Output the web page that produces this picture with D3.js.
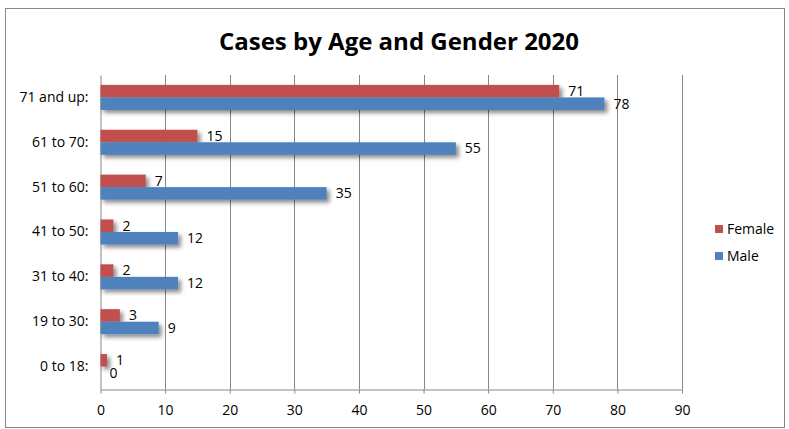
<!DOCTYPE html>
<html><head><meta charset="utf-8">
<script src="https://cdn.jsdelivr.net/npm/d3@7"></script>
<style>body{margin:0;background:#fff}svg{display:block}</style>
</head><body>
<svg id="c" width="789" height="429"></svg>
<script>
const categories = ["71 and up:", "61 to 70:", "51 to 60:", "41 to 50:", "31 to 40:", "19 to 30:", "0 to 18:"];
const series = ["Female", "Male"];
const female = [71, 15, 7, 2, 2, 3, 1];
const male = [78, 55, 35, 12, 12, 9, 0];
const xTicks = [0, 10, 20, 30, 40, 50, 60, 70, 80, 90];
const colors = ["#C0504D", "#4F81BD"];
const title = "Cases by Age and Gender 2020";

const svg = d3.select("#c");
const font = "'Open Sans', 'Liberation Sans', sans-serif";

const defs = svg.append("defs");
const f = defs.append("filter").attr("id", "sh").attr("x", "-10%").attr("y", "-50%").attr("width", "130%").attr("height", "250%");
f.append("feDropShadow").attr("dx", 3).attr("dy", 3).attr("stdDeviation", 2).attr("flood-color", "#000").attr("flood-opacity", 0.45);

svg.append("rect").attr("x", 5.5).attr("y", 8.5).attr("width", 779).attr("height", 419)
  .attr("fill", "#fff").attr("stroke", "#868686").attr("stroke-width", 1);

svg.append("text").attr("x", 399).attr("y", 50).attr("text-anchor", "middle")
  .attr("font-family", font).attr("font-weight", "bold").attr("font-size", 24)
  .attr("fill", "#000").text(title);

const x = d3.scaleLinear().domain([0, 90]).range([100.5, 682]);
const y = d3.scaleBand().domain(categories).range([75, 389]);
const ys = d3.scaleBand().domain(series).range([0, y.bandwidth()]).paddingOuter(0.79);

// gridlines
svg.append("g").selectAll("line").data(xTicks.slice(1)).join("line")
  .attr("x1", d => Math.round(x(d)) + 0.5).attr("x2", d => Math.round(x(d)) + 0.5)
  .attr("y1", 75).attr("y2", 389).attr("stroke", "#868686").attr("stroke-width", 1);

// x axis
const xa = svg.append("g").attr("transform", "translate(0,389.5)")
  .call(d3.axisBottom(x).tickValues(xTicks).tickSize(4).tickSizeOuter(0).tickPadding(12));
xa.select(".domain").attr("stroke", "#868686");
xa.selectAll(".tick line").attr("stroke", "#868686");
xa.selectAll(".tick text").attr("font-family", font).attr("font-size", 14).attr("fill", "#000");

// y axis
const ya = svg.append("g").attr("transform", "translate(100.5,0)")
  .call(d3.axisLeft(y).tickSize(0).tickPadding(12));
ya.select(".domain").attr("stroke", "#868686");
ya.selectAll(".tick text").attr("font-family", font).attr("font-size", 14).attr("fill", "#000");

const data = [];
categories.forEach((c, i) => {
  data.push({c, s: "Female", v: female[i], col: colors[0]});
  data.push({c, s: "Male", v: male[i], col: colors[1]});
});

svg.append("g").attr("filter", "url(#sh)").selectAll("rect").data(data.filter(d => d.v > 0)).join("rect")
  .attr("x", x(0)).attr("y", d => y(d.c) + ys(d.s))
  .attr("width", d => x(d.v) - x(0)).attr("height", ys.bandwidth())
  .attr("fill", d => d.col);

svg.append("g").selectAll("text").data(data).join("text")
  .attr("x", d => x(d.v) + 9).attr("y", d => y(d.c) + ys(d.s) + ys.bandwidth() / 2)
  .attr("dy", "0.35em").attr("font-family", font).attr("font-size", 14).attr("fill", "#000")
  .text(d => d.v);

// legend
const lg = svg.append("g").attr("transform", "translate(715,229)");
series.forEach((s, i) => {
  const g = lg.append("g").attr("transform", `translate(0,${i * 27})`);
  g.append("rect").attr("x", 0).attr("y", -4).attr("width", 8).attr("height", 8).attr("fill", colors[i]);
  g.append("text").attr("x", 12).attr("y", 0).attr("dy", "0.35em")
    .attr("font-family", font).attr("font-size", 14).attr("fill", "#000").text(s);
});
</script>
</body></html>
